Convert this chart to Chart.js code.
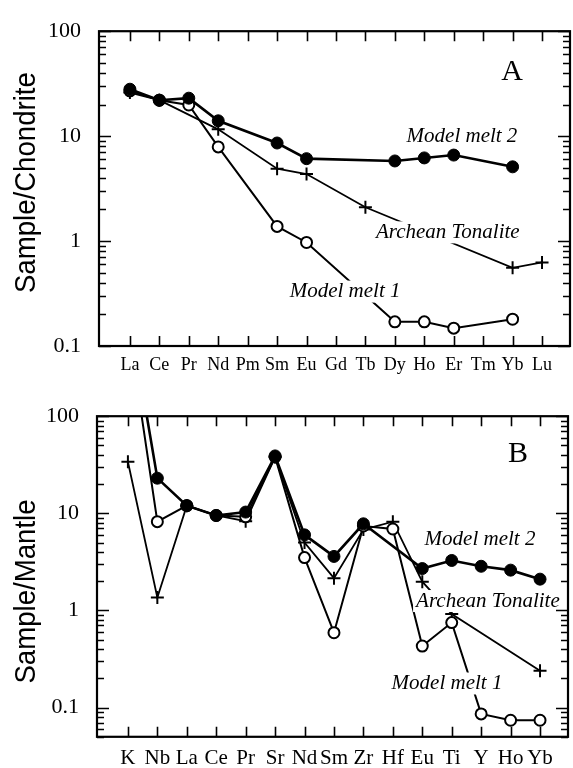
<!DOCTYPE html>
<html><head><meta charset="utf-8">
<script src="https://cdn.jsdelivr.net/npm/chart.js@4.4.0/dist/chart.umd.min.js"></script>
<style>
html,body{margin:0;padding:0;background:#fff;}
#wrap{position:relative;width:573px;height:768px;background:#fff;}
canvas{position:absolute;left:0;}
</style></head><body>
<div id="wrap">
<canvas id="cA" width="573" height="385" style="top:0px;width:573px;height:385px"></canvas>
<canvas id="cB" width="573" height="383" style="top:385px;width:573px;height:383px"></canvas>
</div>
<script>
// ---------- Panel A: chondrite-normalised REE ----------
const reeLabels    = ['La','Ce','Pr','Nd','Pm','Sm','Eu','Gd','Tb','Dy','Ho','Er','Tm','Yb','Lu'];
const reeMelt2     = [28, 22, 23, 14, null, 8.6, 6.1, null, null, 5.8, 6.2, 6.6, null, 5.1, null];
const reeMelt1     = [27, 22, 19.8, 7.9, null, 1.38, 0.97, null, null, 0.17, 0.17, 0.148, null, 0.18, null];
const reeTonalite  = [26, 22, null, 11.6, null, 4.9, 4.35, null, 2.1, null, null, null, null, 0.556, 0.626];

// ---------- Panel B: mantle-normalised spider diagram ----------
const spiderLabels   = ['K','Nb','La','Ce','Pr','Sr','Nd','Sm','Zr','Hf','Eu','Ti','Y','Ho','Yb'];
const spiderMelt2    = [1400, 23, 12, 9.5, 10.3, 39, 6.0, 3.6, 7.8, null, 2.7, 3.27, 2.85, 2.6, 2.1];
const spiderMelt1    = [900, 8.2, 12, 9.5, 9.2, 38, 3.5, 0.59, 7.4, 6.9, 0.43, 0.75, 0.086, 0.074, 0.074];
const spiderTonalite = [34, 1.36, 12, 9.5, 8.3, 38, 5.0, 2.15, 6.8, 8.2, 1.98, 0.92, null, null, 0.24];

const yTickValues = [0.1, 1, 10, 100];
const seriesNames = ['Model melt 2', 'Model melt 1', 'Archean Tonalite'];

const SERIF = "'Liberation Serif','Times New Roman',serif";
const SANS = "'Liberation Sans',Arial,sans-serif";

const notesPlugin = {
  id: 'notes',
  afterDatasetsDraw(chart, args, opts) {
    const ctx = chart.ctx, xs = chart.scales.x, ys = chart.scales.y;
    (opts.items || []).forEach(it => {
      const px = xs.getPixelForValue(it.x), py = ys.getPixelForValue(it.y);
      ctx.save();
      ctx.font = it.font;
      ctx.textAlign = 'center';
      ctx.textBaseline = 'middle';
      if (it.mask) {
        const w = ctx.measureText(it.text).width;
        ctx.fillStyle = '#fff';
        ctx.fillRect(px - w / 2 - 3, py - it.mask / 2, w + 6, it.mask);
      }
      ctx.fillStyle = '#000';
      ctx.fillText(it.text, px, py);
      ctx.restore();
    });
  }
};

const ytitlePlugin = {
  id: 'ytitle',
  afterDraw(chart, args, opts) {
    const ctx = chart.ctx, a = chart.chartArea;
    ctx.save();
    ctx.translate(opts.x, (a.top + a.bottom) / 2 + opts.dy);
    ctx.rotate(-Math.PI / 2);
    ctx.scale(opts.stretch, 1);
    ctx.font = opts.font;
    ctx.fillStyle = '#000';
    ctx.textAlign = 'center';
    ctx.textBaseline = 'middle';
    ctx.fillText(opts.text, 0, 0);
    ctx.restore();
  }
};

const framePlugin = {
  id: 'frame',
  afterDraw(chart) {
    const ctx = chart.ctx, a = chart.chartArea, xs = chart.scales.x, ys = chart.scales.y;
    ctx.save();
    ctx.strokeStyle = '#000';
    ctx.lineWidth = 1.6;
    ctx.beginPath();
    xs.ticks.forEach(t => {
      const px = Math.round(xs.getPixelForValue(t.value)) + 0.5;
      ctx.moveTo(px, a.bottom); ctx.lineTo(px, a.bottom - 10);
      ctx.moveTo(px, a.top); ctx.lineTo(px, a.top + 10);
    });
    const lo = Math.floor(Math.log10(ys.min)), hi = Math.ceil(Math.log10(ys.max));
    for (let d = lo; d <= hi; d++) {
      for (let m = 1; m <= 9; m++) {
        const v = m * Math.pow(10, d);
        if (v < ys.min * 0.999 || v > ys.max * 1.001) continue;
        const py = Math.round(ys.getPixelForValue(v)) + 0.5;
        const len = m === 1 ? 12 : 7;
        ctx.moveTo(a.left, py); ctx.lineTo(a.left + len, py);
        ctx.moveTo(a.right, py); ctx.lineTo(a.right - len, py);
      }
    }
    ctx.stroke();
    ctx.lineWidth = 2.2;
    ctx.strokeRect(a.left, a.top, a.right - a.left, a.bottom - a.top);
    ctx.restore();
  }
};

function makeSets(m2, m1, ton) {
  const pts = arr => arr.map((v, i) => ({ x: i, y: v }));
  return [
    { label: seriesNames[0], data: pts(m2), borderColor: '#000', backgroundColor: '#000',
      pointBackgroundColor: '#000', pointBorderColor: '#000', pointStyle: 'circle',
      pointRadius: 6, pointBorderWidth: 1, borderWidth: 2.6, spanGaps: true, tension: 0 },
    { label: seriesNames[1], data: pts(m1), borderColor: '#000', backgroundColor: '#fff',
      pointBackgroundColor: '#fff', pointBorderColor: '#000', pointStyle: 'circle',
      pointRadius: 5.5, pointBorderWidth: 2, borderWidth: 2, spanGaps: true, tension: 0 },
    { label: seriesNames[2], data: pts(ton), borderColor: '#000', backgroundColor: '#000',
      pointBorderColor: '#000', pointStyle: 'cross',
      pointRadius: 6.5, pointBorderWidth: 2, borderWidth: 1.8, spanGaps: true, tension: 0 }
  ];
}

function makeChart(id, labels, sets, cfg) {
  return new Chart(document.getElementById(id), {
    type: 'line',
    data: { datasets: sets },
    plugins: [notesPlugin, framePlugin, ytitlePlugin],
    options: {
      responsive: false, animation: false, events: [],
      layout: { autoPadding: false, padding: { top: cfg.padTop, right: cfg.padRight, left: 0, bottom: 0 } },
      plugins: { legend: { display: false }, tooltip: { enabled: false },
        notes: { items: cfg.notes },
        ytitle: { text: cfg.title, x: 27, dy: cfg.titleDy, stretch: 0.92, font: "30px " + SANS } },
      scales: {
        x: {
          type: 'linear', min: -1.05, max: 14.95,
          afterBuildTicks: s => { s.ticks = labels.map((_, i) => ({ value: i })); },
          afterFit: s => { s.height = cfg.xH; },
          grid: { display: false, drawTicks: false },
          border: { display: false },
          ticks: { autoSkip: false, maxRotation: 0, padding: cfg.xPad, color: '#000',
            font: { family: SERIF, size: cfg.xFont },
            callback: v => labels[v] !== undefined ? labels[v] : '' }
        },
        y: {
          type: 'logarithmic', min: cfg.yMin, max: 100,
          afterBuildTicks: s => { s.ticks = yTickValues.map(v => ({ value: v, major: true })); },
          afterFit: s => { s.width = cfg.yW; },
          grid: { display: false, drawTicks: false },
          border: { display: false },
          ticks: { padding: 18, color: '#000', font: { family: SERIF, size: 22 },
            callback: v => String(v) }
        }
      }
    }
  });
}

makeChart('cA', reeLabels, makeSets(reeMelt2, reeMelt1, reeTonalite), {
  padTop: 17, padRight: 3, xH: 39, yW: 99, xPad: 8, xFont: 18, yMin: 0.1,
  title: 'Sample/Chondrite', titleDy: -6,
  notes: [
    { text: 'A', x: 12.98, y: 40.6, font: "30px " + SERIF },
    { text: seriesNames[0], x: 11.28, y: 10.0, font: "italic 21px " + SERIF, mask: 22 },
    { text: seriesNames[2], x: 10.8, y: 1.21, font: "italic 21px " + SERIF, mask: 22 },
    { text: seriesNames[1], x: 7.31, y: 0.33, font: "italic 21px " + SERIF, mask: 22 }
  ]
});

makeChart('cB', spiderLabels, makeSets(spiderMelt2, spiderMelt1, spiderTonalite), {
  padTop: 21, padRight: 5, xH: 31, yW: 97, xPad: 9, xFont: 21, yMin: 0.05,
  title: 'Sample/Mantle', titleDy: 15,
  notes: [
    { text: 'B', x: 13.25, y: 40.8, font: "30px " + SERIF },
    { text: seriesNames[0], x: 11.96, y: 5.42, font: "italic 21px " + SERIF, mask: 22 },
    { text: seriesNames[2], x: 12.23, y: 1.25, font: "italic 21px " + SERIF, mask: 22 },
    { text: seriesNames[1], x: 10.84, y: 0.177, font: "italic 21px " + SERIF, mask: 22 }
  ]
});
</script>
</body></html>
